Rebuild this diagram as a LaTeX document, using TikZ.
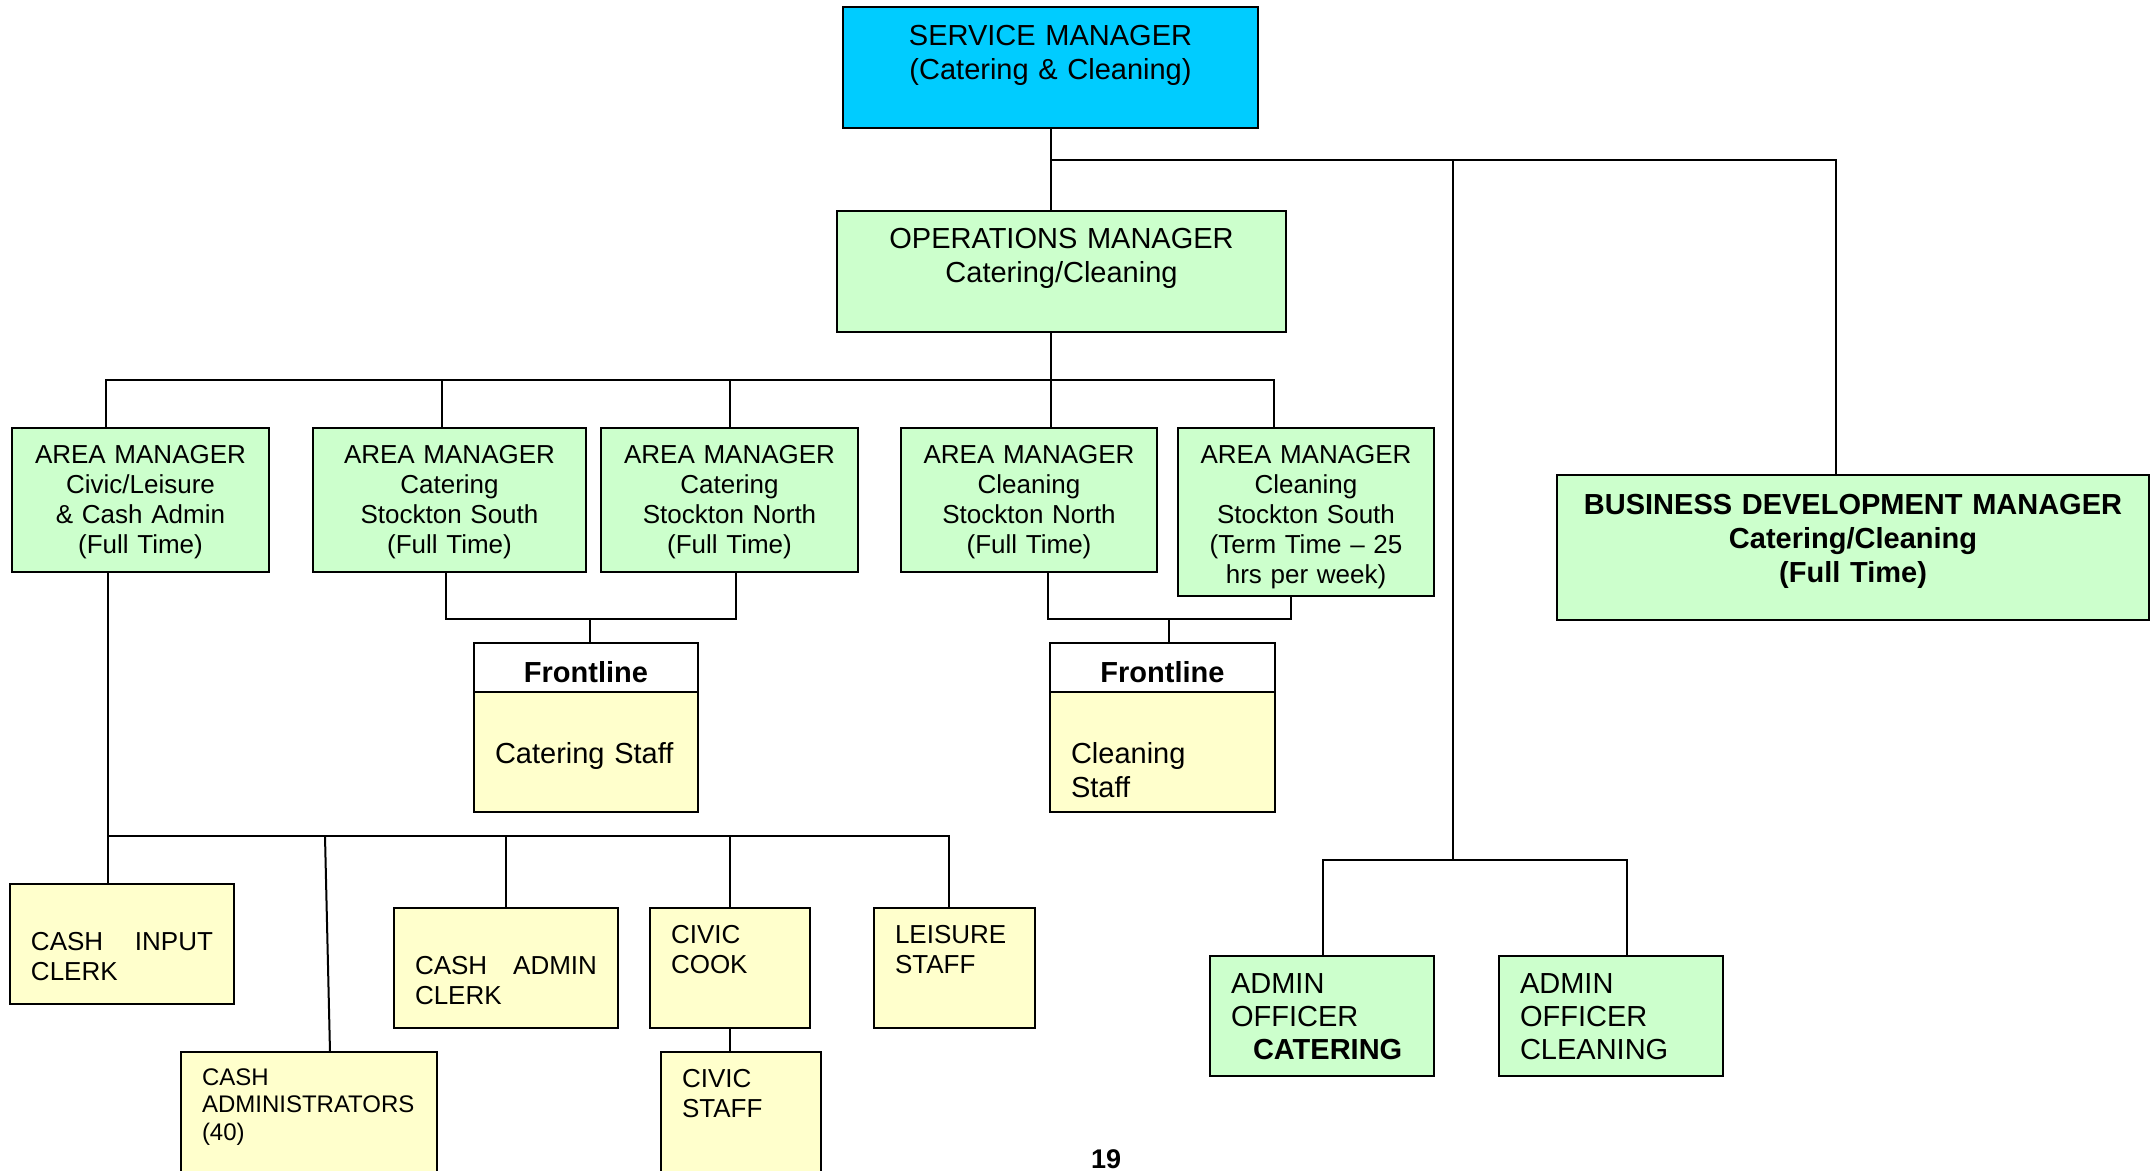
\documentclass[tikz,border=0pt]{standalone}
\usepackage{fontspec}
\setmainfont{Liberation Sans}
\definecolor{topcyan}{HTML}{00CCFF}
\definecolor{mgrgreen}{HTML}{CCFFCC}
\definecolor{staffyellow}{HTML}{FFFFCC}
\tikzset{
  box/.style={draw, line width=1pt, anchor=north west, inner xsep=10.5pt, inner ysep=0pt, outer sep=0pt},
  mgr/.style={box, fill=mgrgreen, align=center},
  staff/.style={box, fill=staffyellow, align=left},
  link/.style={line width=1pt},
  bigtext/.style={font=\fontsize{14.5}{17}\selectfont},
  bigbold/.style={font=\fontsize{14.5}{17}\selectfont\bfseries},
  smalltext/.style={font=\fontsize{13}{15}\selectfont},
}
\begin{document}
\begin{tikzpicture}[x=0.5pt, y=-0.5pt]
        \useasboundingbox (0,0) rectangle (2156,1171);
        % top of the tree
        \node[box, fill=topcyan, align=center, bigtext, text width=186.5pt, text height=19.5pt, text depth=41pt] (sm) at (843,7) {SERVICE MANAGER\\(Catering \& Cleaning)};
        \node[mgr, bigtext, text width=203.5pt, text height=19pt, text depth=41.5pt] (om) at (837,211) {OPERATIONS MANAGER\\Catering/Cleaning};
        \node[mgr, bigbold, text width=275pt, text height=19.5pt, text depth=53pt] (bdm) at (1557,475) {BUSINESS DEVELOPMENT MANAGER\\Catering/Cleaning\\(Full Time)};
        % area managers
        \node[mgr, smalltext, text width=107.5pt, text height=17.5pt, text depth=54.5pt] (am1) at (12,428) {AREA MANAGER\\Civic/Leisure\\\& Cash Admin\\(Full Time)};
        \node[mgr, smalltext, text width=115.5pt, text height=17.5pt, text depth=54.5pt] (am2) at (313,428) {AREA MANAGER\\Catering\\Stockton South\\(Full Time)};
        \node[mgr, smalltext, text width=107.5pt, text height=17.5pt, text depth=54.5pt] (am3) at (601,428) {AREA MANAGER\\Catering\\Stockton North\\(Full Time)};
        \node[mgr, smalltext, text width=107pt, text height=17.5pt, text depth=54.5pt] (am4) at (901,428) {AREA MANAGER\\Cleaning\\Stockton North\\(Full Time)};
        \node[mgr, smalltext, text width=107pt, text height=17.5pt, text depth=66.5pt] (am5) at (1178,428) {AREA MANAGER\\Cleaning\\Stockton South\\(Term Time -- 25\\hrs per week)};
        % frontline
        \node[box, fill=white, align=center, bigbold, text width=91pt, text height=19.5pt, text depth=5pt] (fcathead) at (474,643) {Frontline};
        \node[staff, bigtext, text width=91pt, text height=35.5pt, text depth=24.5pt] (fcat) at (fcathead.south west) {Catering Staff};
        \node[box, fill=white, align=center, bigbold, text width=91.5pt, text height=19.5pt, text depth=5pt] (fclnhead) at (1050,643) {Frontline};
        \node[staff, bigtext, text width=91.5pt, text height=35.5pt, text depth=24.5pt] (fcln) at (fclnhead.south west) {Cleaning\\Staff};
        % civic, leisure and cash
        \node[staff, smalltext, text width=91pt, text height=33.3pt, text depth=26.7pt] (cic) at (10,884) {CASH\hfill INPUT\\CLERK};
        \node[staff, font=\fontsize{12}{13.75}\selectfont, text width=107pt, text height=16.5pt, text depth=60pt] (cadm) at (181,1052) {CASH\\\mbox{ADMINISTRATORS}\\(40)};
        \node[staff, smalltext, text width=91pt, text height=33pt, text depth=27pt] (cac) at (394,908) {CASH\hfill ADMIN\\CLERK};
        \node[staff, smalltext, text width=59pt, text height=17.5pt, text depth=42.5pt] (cck) at (650,908) {CIVIC\\COOK};
        \node[staff, smalltext, text width=59.5pt, text height=17.5pt, text depth=42.5pt] (lsf) at (874,908) {LEISURE\\STAFF};
        \node[staff, smalltext, text width=59pt, text height=17.5pt, text depth=60pt] (cst) at (661,1052) {CIVIC\\STAFF};
        % admin officers
        \node[mgr, align=left, font=\fontsize{14.5}{16.5}\selectfont, text width=91pt, text height=18.5pt, text depth=41.5pt] (aoc) at (1210,956) {ADMIN\\OFFICER\\\hspace*{11pt}\textbf{CATERING}};
        \node[mgr, align=left, font=\fontsize{14.5}{16.5}\selectfont, text width=91pt, text height=18.5pt, text depth=41.5pt] (aocl) at (1499,956) {ADMIN\\OFFICER\\CLEANING};
        \node[anchor=base, font=\fontsize{13.5}{16}\selectfont\bfseries] (pagenum) at (1106,1168) {19};

        % lines from the service manager
        \coordinate (topbus) at (1051,160);
        \coordinate (admtap) at (1453,160);
        \coordinate (bdmtap) at (1836,160);
        \draw[link] (topbus |- sm.south) -- (topbus |- om.north);
        \draw[link] (topbus) -- (bdmtap) -- (bdmtap |- bdm.north);
        \coordinate (adml) at (1323,860);
        \coordinate (admr) at (1627,860);
        \draw[link] (admtap) -- (admtap |- adml);
        \draw[link] (adml |- aoc.north) -- (adml) -- (admr) -- (admr |- aocl.north);
        % area manager bus
        \coordinate (b1) at (106,380);
        \coordinate (b2) at (442,380);
        \coordinate (b3) at (730,380);
        \coordinate (b5) at (1274,380);
        \draw[link] (topbus |- om.south) -- (topbus |- am4.north);
        \draw[link] (b1 |- am1.north) -- (b1) -- (b5) -- (b5 |- am5.north);
        \draw[link] (b2) -- (b2 |- am2.north);
        \draw[link] (b3) -- (b3 |- am3.north);
        % frontline joins
        \coordinate (cj1) at (446,619);
        \coordinate (cj2) at (736,619);
        \coordinate (cjm) at (590,619);
        \draw[link] (cj1 |- am2.south) -- (cj1) -- (cj2) -- (cj2 |- am3.south);
        \draw[link] (cjm) -- (cjm |- fcathead.north);
        \coordinate (kj1) at (1048,619);
        \coordinate (kj2) at (1291,619);
        \coordinate (kjm) at (1169,619);
        \draw[link] (kj1 |- am4.south) -- (kj1) -- (kj2) -- (kj2 |- am5.south);
        \draw[link] (kjm) -- (kjm |- fclnhead.north);
        % civic/leisure bus
        \coordinate (lb1) at (108,836);
        \coordinate (lb2) at (325,836);
        \coordinate (lb2b) at (330,1052);
        \coordinate (lb3) at (506,836);
        \coordinate (lb4) at (730,836);
        \coordinate (lb5) at (949,836);
        \draw[link] (lb1 |- am1.south) -- (lb1 |- cic.north);
        \draw[link] (lb1) -- (lb5) -- (lb5 |- lsf.north);
        \draw[link] (lb2) -- (lb2b);
        \draw[link] (lb3) -- (lb3 |- cac.north);
        \draw[link] (lb4) -- (lb4 |- cck.north);
        \draw[link] (cck.south) -- (cck.south |- cst.north);
\end{tikzpicture}
\end{document}
